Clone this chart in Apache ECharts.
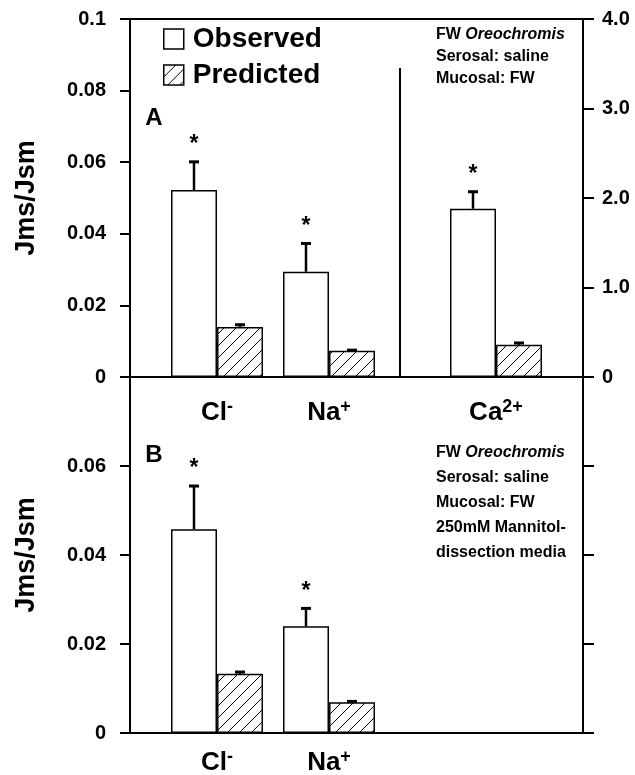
<!DOCTYPE html>
<html>
<head>
<meta charset="utf-8">
<script src="https://cdn.jsdelivr.net/npm/echarts@6/dist/echarts.min.js"></script>
<style>
  html, body { margin: 0; padding: 0; background: #fff; }
  #chart { width: 635px; height: 775px; }
</style>
</head>
<body>
<div id="chart"></div>
<script>
// Panel A: Cl- and Na+ read on the left axis
const ionsA = ['Cl-', 'Na+'];
const observedA = [0.0522, 0.0294];
const observedSeA = [0.0079, 0.0079];
const predictedA = [0.0140, 0.0073];
const predictedSeA = [0.0006, 0.0002];

// Panel A: Ca2+ read on the right axis
const ionsCa = ['Ca2+'];
const observedCa = [1.88];
const observedSeCa = [0.19];
const predictedCa = [0.36];
const predictedSeCa = [0.02];

// Panel B: 250mM mannitol dissection media
const ionsB = ['Cl-', 'Na+'];
const observedB = [0.0458, 0.0240];
const observedSeB = [0.0097, 0.0040];
const predictedB = [0.0133, 0.0069];
const predictedSeB = [0.0004, 0.0002];

// axis ranges and tick steps
const leftRangeA = [0, 0.1, 0.02];
const rightRangeA = [0, 4, 1];
const rangeB = [0, 0.08, 0.02];

const FONT = '"Liberation Sans", Arial, Helvetica, sans-serif';

// frame edges (px)
const L = 130, R = 583, TOP_A = 19, MID = 377, BOT_B = 733;

function hatchCanvas() {
  const c = document.createElement('canvas');
  c.width = 12; c.height = 12;
  const g = c.getContext('2d');
  g.fillStyle = '#fff';
  g.fillRect(0, 0, 12, 12);
  g.strokeStyle = '#000';
  g.lineWidth = 1;
  g.beginPath();
  g.moveTo(0, 12); g.lineTo(12, 0);
  g.moveTo(-1, 1); g.lineTo(1, -1);
  g.moveTo(11, 13); g.lineTo(13, 11);
  g.stroke();
  return c;
}
const hatch = { image: hatchCanvas(), repeat: 'repeat' };

function bars(name, data, xi, yi, fill) {
  return {
    name: name, type: 'bar', xAxisIndex: xi, yAxisIndex: yi, data: data,
    barWidth: 46, barGap: '0%',
    itemStyle: { color: fill, borderColor: '#000', borderWidth: 1.5 },
    emphasis: { disabled: true }, silent: true
  };
}

function errors(vals, ses, xi, yi, shift, star) {
  return {
    type: 'custom', xAxisIndex: xi, yAxisIndex: yi, z: 5, silent: true,
    data: vals.map((v, i) => [i, v, ses[i]]),
    encode: { x: 0, y: 1 },
    renderItem: function (params, api) {
      const base = api.coord([api.value(0), api.value(1)]);
      const tip = api.coord([api.value(0), api.value(1) + api.value(2)]);
      const x = base[0] + shift;
      const kids = [
        { type: 'line', shape: { x1: x, y1: base[1], x2: x, y2: tip[1] }, style: { stroke: '#000', lineWidth: 2.5 } },
        { type: 'line', shape: { x1: x - 5, y1: tip[1], x2: x + 5, y2: tip[1] }, style: { stroke: '#000', lineWidth: 3 } }
      ];
      if (star) {
        kids.push({ type: 'text', x: x, y: tip[1] - 17,
          style: { text: '*', font: 'bold 23px ' + FONT, align: 'center', verticalAlign: 'middle', fill: '#000' } });
      }
      return { type: 'group', children: kids };
    }
  };
}

function ionLabel(v) {
  const m = v.match(/^([A-Z][a-z]?)(.*)$/);
  return '{b|' + m[1] + '}{s|' + m[2] + '}';
}

function catAxis(grid, data, margin) {
  return {
    type: 'category', gridIndex: grid, data: data,
    axisLine: { show: false }, axisTick: { show: false },
    axisLabel: {
      margin: margin, formatter: ionLabel, color: '#000',
      rich: {
        b: { fontFamily: FONT, fontSize: 26, fontWeight: 'bold', lineHeight: 30, color: '#000' },
        s: { fontFamily: FONT, fontSize: 18, fontWeight: 'bold', lineHeight: 10, verticalAlign: 'top', color: '#000' }
      }
    }
  };
}

function valAxis(grid, range, pos, offset, fmt, withName) {
  const ax = {
    type: 'value', gridIndex: grid, position: pos, offset: offset,
    min: range[0], max: range[1], interval: range[2],
    splitLine: { show: false },
    axisLine: { show: true, lineStyle: { color: '#000', width: 2 } },
    axisTick: { show: true, length: pos === 'left' ? 10 : 11, lineStyle: { color: '#000', width: 2 } },
    axisLabel: fmt ? {
      show: true, margin: pos === 'left' ? 24 : 19, formatter: fmt,
      fontFamily: FONT, fontSize: 20, fontWeight: 'bold', color: '#000'
    } : { show: false }
  };
  if (withName) {
    ax.name = 'Jms/Jsm';
    ax.nameLocation = 'middle';
    ax.nameRotate = 90;
    ax.nameGap = 90;
    ax.nameTextStyle = { fontFamily: FONT, fontSize: 27, fontWeight: 'bold', color: '#000' };
  }
  return ax;
}

const fmtSmall = v => v === 0 ? '0' : String(Math.round(v * 100) / 100);
const fmtOne = v => v === 0 ? '0' : v.toFixed(1);

const chart = echarts.init(document.getElementById('chart'), null, { renderer: 'canvas' });

const textRichA = {
  b: { fontFamily: FONT, fontSize: 16, fontWeight: 'bold', lineHeight: 22, color: '#000' },
  i: { fontFamily: FONT, fontSize: 16, fontWeight: 'bold', fontStyle: 'italic', lineHeight: 22, color: '#000' }
};
const textRichB = {
  b: { fontFamily: FONT, fontSize: 16, fontWeight: 'bold', lineHeight: 25, color: '#000' },
  i: { fontFamily: FONT, fontSize: 16, fontWeight: 'bold', fontStyle: 'italic', lineHeight: 25, color: '#000' }
};

const option = {
  animation: false,
  backgroundColor: '#fff',
  grid: [
    { left: 161, top: TOP_A, width: 224, height: MID - TOP_A, outerBoundsMode: 'none' },
    { left: 409, top: TOP_A, width: R - 409, height: MID - TOP_A, outerBoundsMode: 'none' },
    { left: 161, top: MID, width: 224, height: BOT_B - MID, outerBoundsMode: 'none' }
  ],
  xAxis: [
    catAxis(0, ionsA, 21),
    catAxis(1, ionsCa, 21),
    catAxis(2, ionsB, 15)
  ],
  yAxis: [
    valAxis(0, leftRangeA, 'left', 161 - L, fmtSmall, true),
    valAxis(1, rightRangeA, 'right', 0, fmtOne, false),
    valAxis(2, rangeB, 'left', 161 - L, fmtSmall, true),
    valAxis(2, rangeB, 'right', R - 385, null, false)
  ],
  legend: {
    data: ['Observed', 'Predicted'], orient: 'vertical', left: 158, top: 20,
    itemWidth: 20, itemHeight: 20, itemGap: 8, selectedMode: false, icon: 'rect',
    itemStyle: { borderColor: '#000', borderWidth: 1.5 },
    textStyle: { fontFamily: FONT, fontSize: 28, fontWeight: 'bold', color: '#000', padding: [0, 0, 0, 4] }
  },
  series: [
    bars('Observed', observedA, 0, 0, '#fff'),
    bars('Predicted', predictedA, 0, 0, hatch),
    errors(observedA, observedSeA, 0, 0, -23, true),
    errors(predictedA, predictedSeA, 0, 0, 23, false),

    bars('Observed', observedCa, 1, 1, '#fff'),
    bars('Predicted', predictedCa, 1, 1, hatch),
    errors(observedCa, observedSeCa, 1, 1, -23, true),
    errors(predictedCa, predictedSeCa, 1, 1, 23, false),

    bars('Observed', observedB, 2, 2, '#fff'),
    bars('Predicted', predictedB, 2, 2, hatch),
    errors(observedB, observedSeB, 2, 2, -23, true),
    errors(predictedB, predictedSeB, 2, 2, 23, false)
  ],
  graphic: [
    { type: 'rect', silent: true, z: 10, shape: { x: L, y: TOP_A, width: R - L, height: MID - TOP_A },
      style: { fill: 'none', stroke: '#000', lineWidth: 2 } },
    { type: 'rect', silent: true, z: 10, shape: { x: L, y: MID, width: R - L, height: BOT_B - MID },
      style: { fill: 'none', stroke: '#000', lineWidth: 2 } },
    { type: 'line', silent: true, z: 10, shape: { x1: 400, y1: 68, x2: 400, y2: MID },
      style: { stroke: '#000', lineWidth: 2 } },
    { type: 'text', x: 154, y: 118, style: { text: 'A', font: 'bold 24px ' + FONT, align: 'center', verticalAlign: 'middle', fill: '#000' } },
    { type: 'text', x: 154, y: 455, style: { text: 'B', font: 'bold 24px ' + FONT, align: 'center', verticalAlign: 'middle', fill: '#000' } },
    { type: 'text', x: 436, y: 24, style: {
      text: '{b|FW }{i|Oreochromis}\n{b|Serosal: saline}\n{b|Mucosal: FW}', rich: textRichA, align: 'left', verticalAlign: 'top' } },
    { type: 'text', x: 436, y: 440, style: {
      text: '{b|FW }{i|Oreochromis}\n{b|Serosal: saline}\n{b|Mucosal: FW}\n{b|250mM Mannitol-}\n{b|dissection media}', rich: textRichB, align: 'left', verticalAlign: 'top' } }
  ]
};

option.yAxis[2].axisLabel.showMaxLabel = false;

chart.setOption(option);
</script>
</body>
</html>
